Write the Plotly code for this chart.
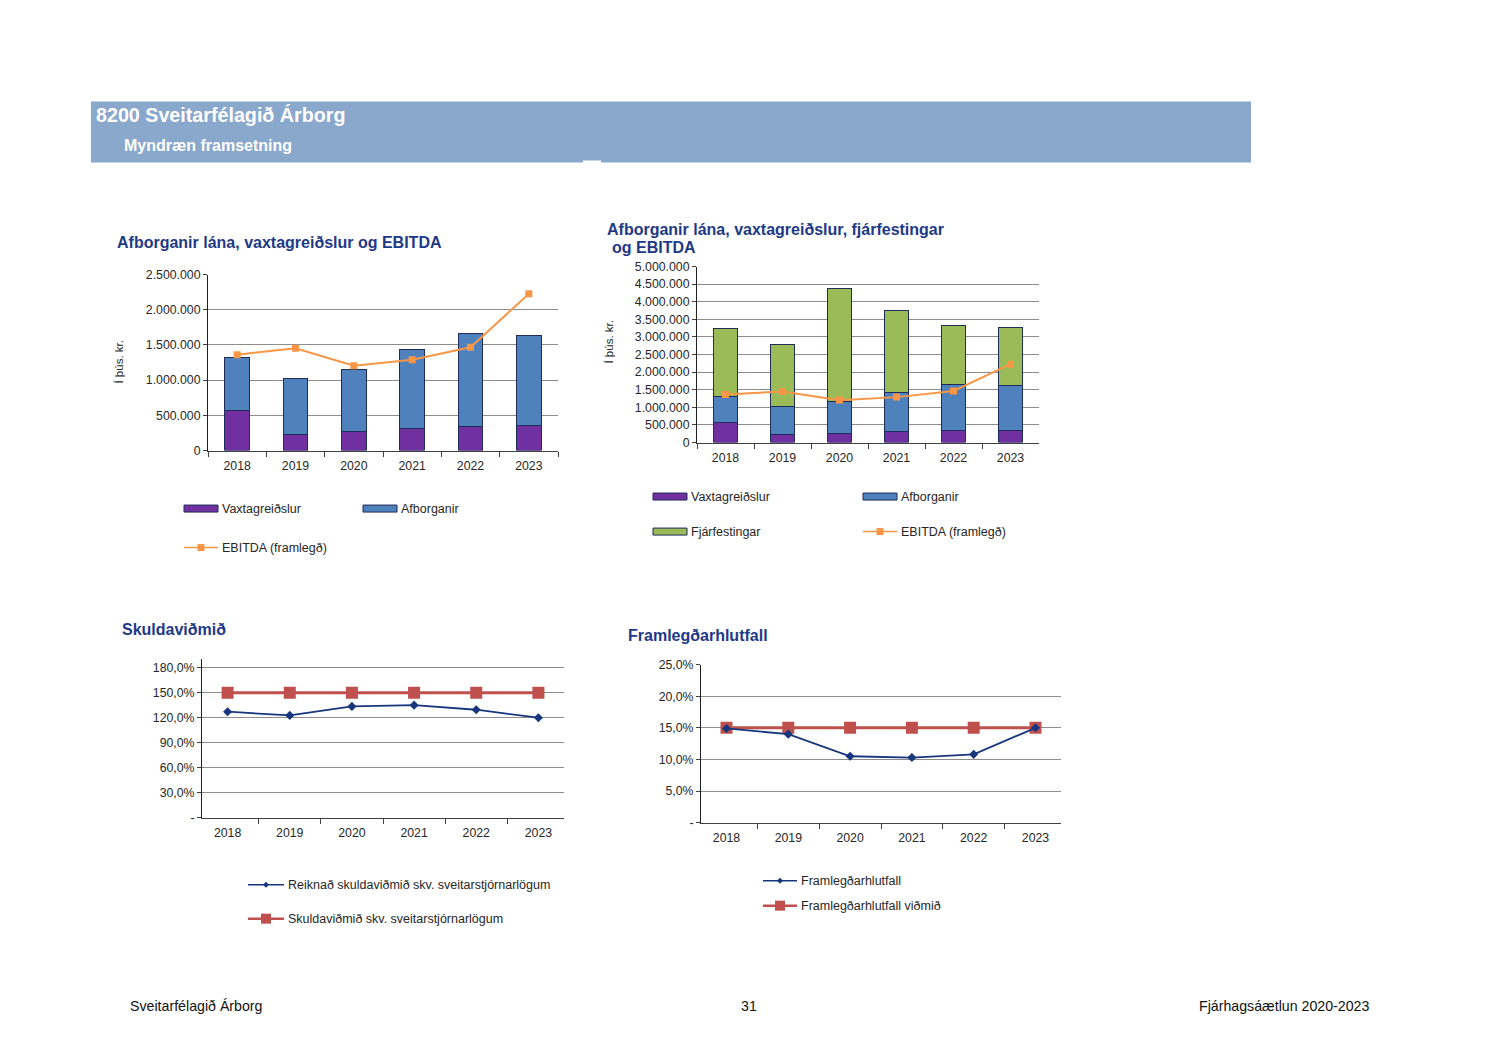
import plotly.graph_objects as go

# ---------------- data ----------------
years = ["2018", "2019", "2020", "2021", "2022", "2023"]
vaxtagreidslur = [569000, 223000, 270000, 318000, 346000, 351000]
afborganir = [746000, 797000, 888000, 1110000, 1310000, 1277000]
fjarfestingar = [1911000, 1770000, 3227000, 2320000, 1664000, 1636000]
ebitda = [1362000, 1452000, 1205000, 1290000, 1466000, 2225000]

skuldavidmid = [127.2, 122.8, 133.6, 135.1, 129.6, 120.0]
skuldavidmid_log = [150, 150, 150, 150, 150, 150]

framlegdarhlutfall = [14.9, 14.0, 10.5, 10.3, 10.8, 15.0]
framlegdarhlutfall_vidmid = [15, 15, 15, 15, 15, 15]

y1_ticks = [0, 500000, 1000000, 1500000, 2000000, 2500000]
y1_text = ["0", "500.000", "1.000.000", "1.500.000", "2.000.000", "2.500.000"]
y2_ticks = [0, 500000, 1000000, 1500000, 2000000, 2500000, 3000000, 3500000, 4000000, 4500000, 5000000]
y2_text = ["0", "500.000", "1.000.000", "1.500.000", "2.000.000", "2.500.000", "3.000.000",
           "3.500.000", "4.000.000", "4.500.000", "5.000.000"]
y3_ticks = [0, 30, 60, 90, 120, 150, 180]
y3_text = ["-", "30,0%", "60,0%", "90,0%", "120,0%", "150,0%", "180,0%"]
y4_ticks = [0, 5, 10, 15, 20, 25]
y4_text = ["-", "5,0%", "10,0%", "15,0%", "20,0%", "25,0%"]

# ---------------- styles ----------------
W, H = 1500, 1061
FONT = "Liberation Sans"
PURPLE = "#7030A0"
BLUE = "#4F81BD"
GREEN = "#9BBB59"
ORANGE = "#F79646"
OUTLINE = "#1F2D5A"
NAVY = "#17367D"
RED = "#C0504D"
TITLE_C = "#1E3A87"
GRID = "#8C8C8C"
TXT = "#262626"


def px(x):
    return x / W


def py(y):
    # page-pixel row -> paper fraction
    return 1 - ((y - 6.56) / 0.98656) / H


fig = go.Figure()

# chart 1
fig.add_trace(go.Bar(x=years, y=vaxtagreidslur, name="Vaxtagreiðslur", marker=dict(color=PURPLE, line=dict(color=OUTLINE, width=1)), xaxis="x", yaxis="y"))
fig.add_trace(go.Bar(x=years, y=afborganir, name="Afborganir", marker=dict(color=BLUE, line=dict(color=OUTLINE, width=1)), xaxis="x", yaxis="y"))
fig.add_trace(go.Scatter(x=years, y=ebitda, name="EBITDA (framlegð)", mode="lines+markers",
                         line=dict(color=ORANGE, width=2), marker=dict(symbol="square", size=7, color=ORANGE), xaxis="x", yaxis="y"))
# chart 2
fig.add_trace(go.Bar(x=years, y=vaxtagreidslur, name="Vaxtagreiðslur", marker=dict(color=PURPLE, line=dict(color=OUTLINE, width=1)), xaxis="x2", yaxis="y2"))
fig.add_trace(go.Bar(x=years, y=afborganir, name="Afborganir", marker=dict(color=BLUE, line=dict(color=OUTLINE, width=1)), xaxis="x2", yaxis="y2"))
fig.add_trace(go.Bar(x=years, y=fjarfestingar, name="Fjárfestingar", marker=dict(color=GREEN, line=dict(color=OUTLINE, width=1)), xaxis="x2", yaxis="y2"))
fig.add_trace(go.Scatter(x=years, y=ebitda, name="EBITDA (framlegð)", mode="lines+markers",
                         line=dict(color=ORANGE, width=2), marker=dict(symbol="square", size=7, color=ORANGE), xaxis="x2", yaxis="y2"))
# chart 3
fig.add_trace(go.Scatter(x=years, y=skuldavidmid_log, name="Skuldaviðmið skv. sveitarstjórnarlögum", mode="lines+markers",
                         line=dict(color=RED, width=3), marker=dict(symbol="square", size=12, color=RED), xaxis="x3", yaxis="y3"))
fig.add_trace(go.Scatter(x=years, y=skuldavidmid, name="Reiknað skuldaviðmið skv. sveitarstjórnarlögum", mode="lines+markers",
                         line=dict(color=NAVY, width=1.8), marker=dict(symbol="diamond", size=7, color=NAVY), xaxis="x3", yaxis="y3"))
# chart 4
fig.add_trace(go.Scatter(x=years, y=framlegdarhlutfall_vidmid, name="Framlegðarhlutfall viðmið", mode="lines+markers",
                         line=dict(color=RED, width=3), marker=dict(symbol="square", size=12, color=RED), xaxis="x4", yaxis="y4"))
fig.add_trace(go.Scatter(x=years, y=framlegdarhlutfall, name="Framlegðarhlutfall", mode="lines+markers",
                         line=dict(color=NAVY, width=1.8), marker=dict(symbol="diamond", size=7, color=NAVY), xaxis="x4", yaxis="y4"))

tickfont = dict(family=FONT, size=12.3, color=TXT)


def xax(domain, anchor):
    return dict(domain=domain, anchor=anchor, type="category", showgrid=False, showline=True,
                linecolor="#404040", linewidth=1, ticks="outside", ticklen=5, tickcolor="#404040",
                tickson="boundaries", tickfont=tickfont, ticklabelstandoff=4, fixedrange=True)


def yax(domain, anchor, rng, tv, tt, linecolor="#202020"):
    return dict(domain=domain, anchor=anchor, range=rng, tickvals=tv, ticktext=tt, showgrid=True,
                gridcolor=GRID, gridwidth=1, showline=True, linecolor=linecolor, linewidth=1,
                ticks="outside", ticklen=4, tickcolor="#404040", tickfont=tickfont, zeroline=False,
                fixedrange=True)


fig.update_layout(
    width=W, height=H, margin=dict(l=0, r=0, t=0, b=0),
    paper_bgcolor="white", plot_bgcolor="white",
    barmode="stack", bargap=0.58, showlegend=False,
    font=dict(family=FONT, color=TXT),
    xaxis=xax([px(208), px(558)], "y"),
    yaxis=yax([py(450), py(274)], "x", [0, 2500000], y1_ticks, y1_text),
    xaxis2=xax([px(697), px(1039)], "y2"),
    yaxis2=yax([py(442), py(266)], "x2", [0, 5000000], y2_ticks, y2_text),
    xaxis3=xax([px(202), px(564)], "y3"),
    yaxis3=yax([py(817), py(658)], "x3", [0, 191], y3_ticks, y3_text),
    xaxis4=xax([px(701), px(1061)], "y4"),
    yaxis4=yax([py(822), py(664)], "x4", [0, 25], y4_ticks, y4_text),
)

shapes = []
ann = []

# header band
shapes.append(dict(type="rect", xref="paper", yref="paper", x0=px(91), x1=px(1251), y0=py(162), y1=py(101),
                   fillcolor="#8AA7CC", line=dict(width=0), layer="below"))
shapes.append(dict(type="rect", xref="paper", yref="paper", x0=px(583), x1=px(601), y0=py(163), y1=py(160),
                   fillcolor="white", line=dict(width=0)))
ann.append(dict(text="<b>8200 Sveitarfélagið Árborg</b>", x=px(94), y=py(115), xanchor="left", yanchor="middle",
                font=dict(family=FONT, size=19.7, color="white")))
ann.append(dict(text="<b>Myndræn framsetning</b>", x=px(122), y=py(145), xanchor="left", yanchor="middle",
                font=dict(family=FONT, size=16, color="white")))

# chart titles
tfont = dict(family=FONT, size=16, color=TITLE_C)
ann.append(dict(text="<b>Afborganir lána, vaxtagreiðslur og EBITDA</b>", x=px(115), y=py(242), xanchor="left", yanchor="middle", font=tfont))
ann.append(dict(text="<b>Afborganir lána, vaxtagreiðslur, fjárfestingar</b>", x=px(605), y=py(229), xanchor="left", yanchor="middle", font=tfont))
ann.append(dict(text="<b>og EBITDA</b>", x=px(610), y=py(247), xanchor="left", yanchor="middle", font=tfont))
ann.append(dict(text="<b>Skuldaviðmið</b>", x=px(120), y=py(629), xanchor="left", yanchor="middle", font=tfont))
ann.append(dict(text="<b>Framlegðarhlutfall</b>", x=px(626), y=py(635), xanchor="left", yanchor="middle", font=tfont))

# y-axis titles
for (xx, yy) in [(119, 362), (609, 342)]:
    ann.append(dict(text="Í þús. kr.", x=px(xx), y=py(yy), xanchor="center", yanchor="middle", textangle=-90,
                    font=dict(family=FONT, size=11.5, color=TXT)))

lfont = dict(family=FONT, size=12.5, color=TXT)


def legend_bar(x0, y, color, label):
    shapes.append(dict(type="rect", xref="paper", yref="paper", x0=px(x0), x1=px(x0 + 34), y0=py(y + 3.5), y1=py(y - 3.5),
                       fillcolor=color, line=dict(color=OUTLINE, width=1)))
    ann.append(dict(text=label, x=px(x0 + 36), y=py(y), xanchor="left", yanchor="middle", font=lfont))


def legend_line(x0, length, y, color, width, msize, symbol, label):
    shapes.append(dict(type="line", xref="paper", yref="paper", x0=px(x0), x1=px(x0 + length), y0=py(y), y1=py(y),
                       line=dict(color=color, width=width)))
    cx = x0 + length / 2
    if symbol == "square":
        shapes.append(dict(type="rect", xref="paper", yref="paper", x0=px(cx - msize / 2), x1=px(cx + msize / 2),
                           y0=py(y + msize / 2), y1=py(y - msize / 2), fillcolor=color, line=dict(width=0)))
    else:
        r = msize / 2
        path = f"M {px(cx)} {py(y - r)} L {px(cx + r)} {py(y)} L {px(cx)} {py(y + r)} L {px(cx - r)} {py(y)} Z"
        shapes.append(dict(type="path", xref="paper", yref="paper", path=path, fillcolor=color, line=dict(width=0)))
    ann.append(dict(text=label, x=px(x0 + length + 2), y=py(y), xanchor="left", yanchor="middle", font=lfont))


# legend chart 1
legend_bar(184, 508, PURPLE, "Vaxtagreiðslur")
legend_bar(363, 508, BLUE, "Afborganir")
legend_line(184, 34, 547, ORANGE, 1.5, 7, "square", "EBITDA (framlegð)")
# legend chart 2
legend_bar(653, 496, PURPLE, "Vaxtagreiðslur")
legend_bar(863, 496, BLUE, "Afborganir")
legend_bar(653, 531, GREEN, "Fjárfestingar")
legend_line(863, 34, 531, ORANGE, 1.5, 7, "square", "EBITDA (framlegð)")
# legend chart 3
legend_line(248, 36, 884, NAVY, 1.5, 6, "diamond", "Reiknað skuldaviðmið skv. sveitarstjórnarlögum")
legend_line(248, 36, 918, RED, 2.5, 10, "square", "Skuldaviðmið skv. sveitarstjórnarlögum")
# legend chart 4
legend_line(763, 34, 880, NAVY, 1.5, 6, "diamond", "Framlegðarhlutfall")
legend_line(763, 34, 905, RED, 2.5, 10, "square", "Framlegðarhlutfall viðmið")

# footer
ffont = dict(family=FONT, size=14.2, color="#111111")
ann.append(dict(text="Sveitarfélagið Árborg", x=px(128), y=py(1005), xanchor="left", yanchor="middle", font=ffont))
ann.append(dict(text="31", x=px(749), y=py(1005), xanchor="center", yanchor="middle", font=ffont))
ann.append(dict(text="Fjárhagsáætlun 2020-2023", x=px(1371), y=py(1005), xanchor="right", yanchor="middle", font=ffont))

for a in ann:
    a.update(xref="paper", yref="paper", showarrow=False)

fig.update_layout(shapes=shapes, annotations=ann)

fig.write_html(
    "out.html",
    config={"displayModeBar": False, "staticPlot": True},
    post_script=(
        "document.documentElement.style.margin='0';document.documentElement.style.overflow='hidden';"
        "document.body.style.margin='0';document.body.style.padding='0';document.body.style.overflow='hidden';"
        "var d=document.getElementById('{plot_id}');d.style.position='fixed';d.style.left='0px';d.style.top='0px';"
    ),
)
